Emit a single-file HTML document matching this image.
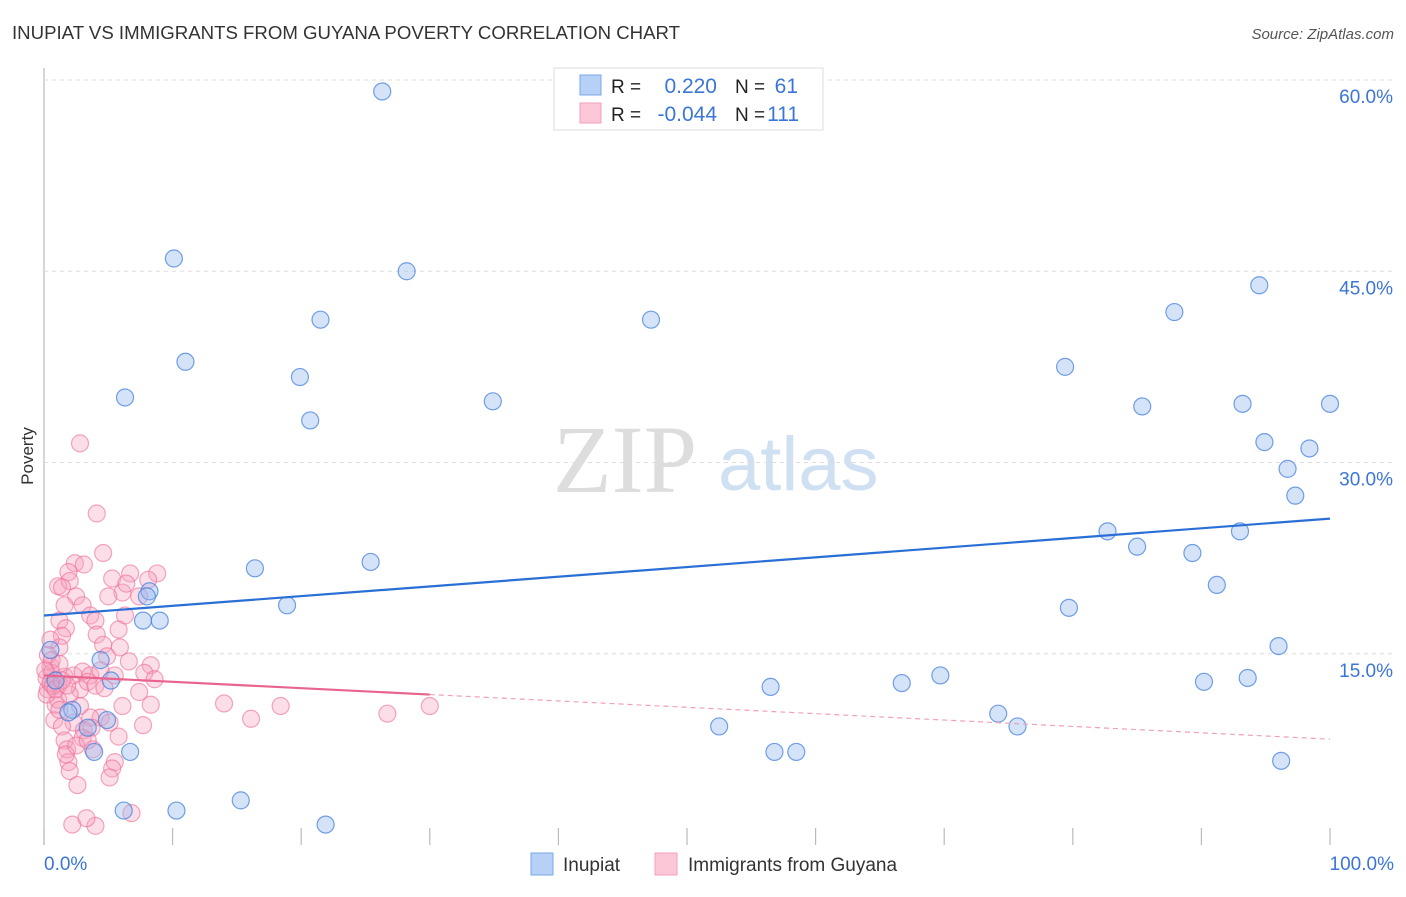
<!DOCTYPE html>
<html><head><meta charset="utf-8"><style>
body{margin:0;background:#fff;font-family:"Liberation Sans",sans-serif}
</style></head><body>
<svg id="c" width="1406" height="892" xmlns="http://www.w3.org/2000/svg">
<text x="12" y="39" font-size="18" fill="#333" textLength="668" lengthAdjust="spacingAndGlyphs">INUPIAT VS IMMIGRANTS FROM GUYANA POVERTY CORRELATION CHART</text>
<text x="1394" y="39" font-size="15" font-style="italic" fill="#555" text-anchor="end">Source: ZipAtlas.com</text>
<text x="0" y="0" transform="translate(33,456) rotate(-90)" font-size="17" fill="#333" text-anchor="middle">Poverty</text>
<g><text x="553" y="492" font-family="Liberation Serif,serif" font-size="96" fill="#ddd">ZIP</text><text x="718" y="490" font-size="76" fill="#cfe0f3">atlas</text></g>
<g id="grid"></g><g id="ticks"></g><g id="pts"></g><g id="lines"></g>
<g>
<rect x="554" y="68" width="269" height="62" fill="#fff" stroke="#ddd"/>
<rect x="580" y="75" width="21" height="20" fill="#b7d0f5" stroke="#7aa7e6"/>
<rect x="580" y="103" width="21" height="20" fill="#fcc7d6" stroke="#f2a0b9"/>
<text x="611" y="93" font-size="19" fill="#222">R =</text><text x="717" y="93" font-size="21" fill="#3b75d8" text-anchor="end">0.220</text>
<text x="735" y="93" font-size="19" fill="#222">N =</text><text x="798" y="93" font-size="21" fill="#3b75d8" text-anchor="end">61</text>
<text x="611" y="121" font-size="19" fill="#222">R =</text><text x="717" y="121" font-size="21" fill="#3b75d8" text-anchor="end">-0.044</text>
<text x="735" y="121" font-size="19" fill="#222">N =</text><text x="799" y="121" font-size="21" fill="#3b75d8" text-anchor="end">111</text>
</g>
<g>
<rect x="531" y="853" width="22" height="22" fill="#b7d0f5" stroke="#7aa7e6"/>
<text x="563" y="871" font-size="19" fill="#333">Inupiat</text>
<rect x="655" y="853" width="22" height="22" fill="#fcc7d6" stroke="#f2a0b9"/>
<text x="688" y="871" font-size="19" fill="#333">Immigrants from Guyana</text>
</g>
</svg>
<script>
const yTicks=[15,30,45,60];
const xTickLabels=["0.0%","100.0%"];
const blueX=[26.3,10.1,28.2,21.5,47.2,94.5,87.9,11.0,79.4,19.9,6.3,34.9,20.7,85.4,93.2,100,94.9,98.4,96.7,97.3,82.7,93.0,85.0,89.3,25.4,16.4,91.2,8.2,8.0,18.9,79.7,7.7,9.0,96.0,0.5,4.4,5.2,69.7,66.7,56.5,90.2,93.6,2.2,1.9,4.9,74.2,75.7,52.5,3.4,3.9,6.7,56.8,58.5,96.2,15.3,6.2,10.3,21.9,0.9];
const blueY=[59.1,46.0,45.0,41.2,41.2,43.9,41.8,37.9,37.5,36.7,35.1,34.8,33.3,34.4,34.6,34.6,31.6,31.1,29.5,27.4,24.6,24.6,23.4,22.9,22.2,21.7,20.4,19.9,19.5,18.8,18.6,17.6,17.6,15.6,15.3,14.5,12.9,13.3,12.7,12.4,12.8,13.1,10.6,10.4,9.8,10.3,9.3,9.3,9.2,7.3,7.3,7.3,7.3,6.6,3.5,2.7,2.7,1.6,12.9];
const pinkX=[2.8,4.1,4.6,2.4,3.1,1.9,6.7,8.8,5.3,8.1,1.1,2.0,1.4,2.5,6.1,7.4,1.6,3.0,3.6,6.3,1.2,4.0,1.7,4.1,1.4,4.6,1.2,5.9,4.9,6.6,8.3,7.8,8.6,0.5,0.6,0.9,0.3,1.1,1.6,2.3,3.0,3.6,4.4,2.8,3.4,4.0,4.7,5.5,7.4,14.0,8.3,6.1,2.8,4.4,3.6,0.8,0.9,2.3,16.1,18.4,26.7,30.0,5.1,1.4,3.1,3.7,1.6,5.8,7.7,3.0,1.8,1.9,2.0,3.8,2.6,5.5,5.3,5.1,2.2,4.0,3.3,6.8,1.1,0.3,0.6,1.2,0.2,2.0,1.2,1.7,2.5,3.4,0.5,5.0,5.8,6.4,0.2,0.5,0.7,0.9,1.4,1.8,0.1];
const pinkY=[31.5,26.0,22.9,22.1,22.0,21.4,21.3,21.3,20.9,20.8,20.3,20.7,20.2,19.5,19.8,19.5,18.8,18.8,18.0,18.0,17.6,17.6,17.0,16.5,16.4,15.7,15.5,15.5,14.8,14.4,14.1,13.5,13.0,14.0,13.5,12.9,12.2,12.5,13.2,13.3,13.6,13.3,13.7,12.2,12.8,12.5,12.3,13.3,12.0,11.1,11.0,10.9,10.9,10.0,10.0,9.8,11.0,9.6,9.9,10.9,10.3,10.9,9.6,9.3,9.0,9.2,8.2,8.5,9.4,8.4,7.5,6.5,5.8,7.5,4.7,6.5,6.0,5.3,1.6,1.5,2.1,2.5,11.4,14.9,14.5,14.2,11.8,11.8,10.6,7.1,7.8,8.2,16.1,19.5,16.9,20.5,13.1,12.7,12.5,12.2,12.9,12.5,13.7];
const blueTrend=[18.0,25.6];
const pinkTrend=[13.3,8.3];
const pinkSolidEnd=30;
const NS="http://www.w3.org/2000/svg";
const sx=v=>44+v*12.86, sy=v=>845-v*12.75;
function mk(tag,attrs,parent){const e=document.createElementNS(NS,tag);for(const k in attrs)e.setAttribute(k,attrs[k]);document.getElementById(parent).appendChild(e);return e;}
const ax=mk('line',{x1:44,y1:68,x2:44,y2:845,stroke:'#bbb','stroke-width':1.2},'grid');


yTicks.forEach(t=>{
  const g=mk('line',{x1:44,y1:sy(t),x2:1394,y2:sy(t),stroke:'#ddd','stroke-dasharray':'4,4'},'grid');
  
  
  const l=mk('text',{x:1393,y:sy(t)+23,'font-size':19,fill:'#3b75d8','text-anchor':'end'},'grid');
  l.textContent=t.toFixed(1)+'%';
  
  
});
for(let i=0;i<=10;i++){
  const t=mk('line',{x1:sx(i*10),y1:828,x2:sx(i*10),y2:845,stroke:'#bbb','stroke-width':1.2},'ticks');
  
  
}
[[0,'start',44],[1,'end',1394]].forEach(([i,a,x])=>{
  const l=mk('text',{x:x,y:870,'font-size':19,fill:'#3b75d8','text-anchor':a},'ticks');
  l.textContent=xTickLabels[i];
  
  
});
pinkX.forEach((x,i)=>{
  const c=mk('circle',{cx:sx(x),cy:sy(pinkY[i]),r:8.5,fill:'rgba(246,160,188,0.35)',stroke:'rgba(236,110,150,0.6)','stroke-width':1.2},'pts');
  
  
});
blueX.forEach((x,i)=>{
  const c=mk('circle',{cx:sx(x),cy:sy(blueY[i]),r:8.5,fill:'rgba(150,185,240,0.4)',stroke:'rgba(70,130,220,0.75)','stroke-width':1.2},'pts');
  
  
});
const bl=mk('line',{x1:sx(0),y1:sy(blueTrend[0]),x2:sx(100),y2:sy(blueTrend[1]),stroke:'#2a6fd6','stroke-width':2.2},'lines');


const py=x=>pinkTrend[0]+(pinkTrend[1]-pinkTrend[0])*x/100;
const pl=mk('line',{x1:sx(0),y1:sy(py(0)),x2:sx(pinkSolidEnd),y2:sy(py(pinkSolidEnd)),stroke:'#e8648f','stroke-width':2.2},'lines');


const pd=mk('line',{x1:sx(pinkSolidEnd),y1:sy(py(pinkSolidEnd)),x2:sx(100),y2:sy(py(100)),stroke:'#f0a0b8','stroke-width':1.2,'stroke-dasharray':'5,4'},'lines');


</script>
</body></html>
